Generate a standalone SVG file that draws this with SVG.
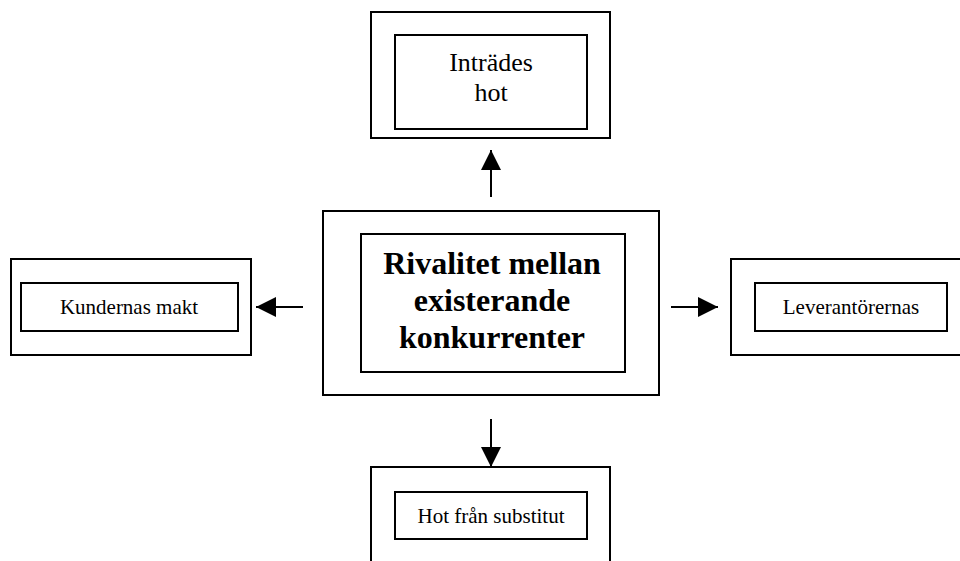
<svg xmlns="http://www.w3.org/2000/svg" width="960" height="561" viewBox="0 0 960 561">
<style>
rect{fill:none;stroke:#000;stroke-width:2}
text{font-family:"Liberation Serif","Times New Roman",serif;fill:#000;text-anchor:middle}
.s{font-size:21px}
.m{font-size:26px}
.b{font-size:32px;font-weight:bold}
.c{stroke:#000;stroke-width:2;fill:none}
</style>
<defs>
<marker id="ah" viewBox="0 0 20 20" refX="20" refY="10" markerWidth="20" markerHeight="20" markerUnits="userSpaceOnUse" orient="auto">
<path d="M0,0 L20,10 L0,20 Z" fill="#000"/>
</marker>
</defs>
<rect width="960" height="561" style="fill:#fff;stroke:none"/>
<g id="top">
<rect x="371" y="12" width="239" height="126"/>
<rect x="395" y="35" width="192" height="94"/>
<text class="m" x="491" y="71">Inträdes</text>
<text class="m" x="491" y="101">hot</text>
</g>
<g id="left">
<rect x="11" y="259" width="240" height="96"/>
<rect x="21" y="283" width="217" height="48"/>
<text class="s" x="129" y="314">Kundernas makt</text>
</g>
<g id="right">
<rect x="731" y="259" width="240" height="96"/>
<rect x="755" y="283" width="192" height="48"/>
<text class="s" x="851" y="314">Leverantörernas</text>
</g>
<g id="bottom">
<rect x="371" y="467" width="239" height="110"/>
<rect x="395" y="492" width="192" height="47"/>
<text class="s" x="491" y="523">Hot från substitut</text>
</g>
<g id="center">
<rect x="323" y="211" width="336" height="184"/>
<rect x="361" y="234" width="264" height="138"/>
<text class="b" x="492" y="274">Rivalitet mellan</text>
<text class="b" x="492" y="311">existerande</text>
<text class="b" x="492" y="348">konkurrenter</text>
</g>
<g id="connectors">
<line class="c" x1="491" y1="197" x2="491" y2="150" marker-end="url(#ah)"/>
<line class="c" x1="303" y1="307" x2="256" y2="307" marker-end="url(#ah)"/>
<line class="c" x1="671" y1="307" x2="718" y2="307" marker-end="url(#ah)"/>
<line class="c" x1="491" y1="419" x2="491" y2="467" marker-end="url(#ah)"/>
</g>
</svg>
